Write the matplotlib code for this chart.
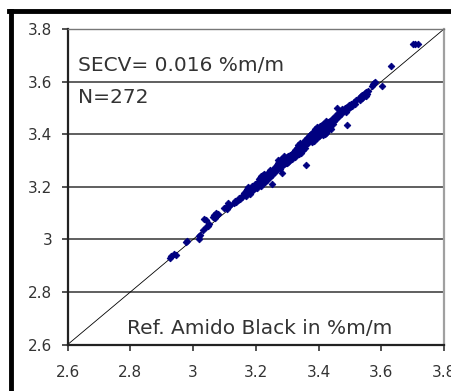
import matplotlib
matplotlib.use("Agg")
import matplotlib.pyplot as plt
from matplotlib.lines import Line2D

# reference (x) vs predicted (y) values
ref_vals = [
    2.925, 2.930, 2.940, 2.945,
    2.978, 2.982,
    3.018, 3.020, 3.022,
    3.036, 3.040,
    3.032, 3.040, 3.046, 3.050,
    3.064, 3.068, 3.072, 3.076, 3.080, 3.070,
    3.100, 3.104, 3.110, 3.114, 3.118, 3.108,
    3.130, 3.134, 3.138, 3.142, 3.146, 3.150, 3.155, 3.160,
    3.162, 3.165, 3.168, 3.170, 3.172, 3.175, 3.176, 3.178, 3.180, 3.182,
    3.184, 3.186, 3.188, 3.190, 3.192, 3.194, 3.196, 3.198, 3.200, 3.170,
    3.202, 3.204, 3.206, 3.208, 3.210, 3.212, 3.214, 3.216, 3.218, 3.220,
    3.222, 3.224, 3.226, 3.228, 3.230, 3.232, 3.234, 3.236, 3.238, 3.240,
    3.242, 3.244, 3.246, 3.248, 3.250, 3.252, 3.254, 3.256, 3.258, 3.260,
    3.215, 3.225, 3.235, 3.245, 3.250,
    3.262, 3.264, 3.266, 3.268, 3.270, 3.272, 3.274, 3.276, 3.278, 3.280,
    3.282, 3.284, 3.286, 3.288, 3.290, 3.292, 3.294, 3.296, 3.298, 3.300,
    3.302, 3.304, 3.306, 3.308, 3.310, 3.312, 3.314, 3.316, 3.318, 3.320,
    3.270, 3.280, 3.290, 3.300, 3.282,
    3.322, 3.324, 3.326, 3.328, 3.330, 3.332, 3.334, 3.336, 3.338, 3.340,
    3.342, 3.344, 3.346, 3.348, 3.350, 3.352, 3.354, 3.356, 3.358, 3.360,
    3.325, 3.335, 3.345, 3.355, 3.330, 3.340, 3.350, 3.360, 3.338, 3.358,
    3.362, 3.364, 3.366, 3.368, 3.370, 3.372, 3.374, 3.376, 3.378, 3.380,
    3.382, 3.384, 3.386, 3.388, 3.390, 3.392, 3.394, 3.396, 3.398, 3.400,
    3.402, 3.404, 3.406, 3.408, 3.410, 3.412, 3.414, 3.416, 3.418, 3.420,
    3.422, 3.424, 3.426, 3.428, 3.430, 3.432, 3.434, 3.436, 3.438, 3.440,
    3.365, 3.375, 3.385, 3.395, 3.405, 3.415, 3.425, 3.435, 3.370, 3.380,
    3.390, 3.400, 3.410, 3.420, 3.430, 3.440, 3.395, 3.405, 3.415, 3.425,
    3.384, 3.392, 3.402, 3.412, 3.422, 3.432, 3.376, 3.368, 3.386,
    3.442, 3.445, 3.448, 3.450, 3.452, 3.455, 3.458, 3.460, 3.462, 3.465,
    3.468, 3.470, 3.474, 3.478, 3.490,
    3.482, 3.485, 3.488, 3.490, 3.494, 3.498, 3.500, 3.504, 3.508, 3.512,
    3.516, 3.520,
    3.528, 3.532, 3.535, 3.538, 3.540, 3.542, 3.545, 3.548, 3.550, 3.552,
    3.555, 3.558,
    3.570, 3.574, 3.578, 3.580,
    3.603, 3.630,
    3.700, 3.708, 3.716,
]
pred_vals = [
    2.930, 2.935, 2.945, 2.942,
    2.988, 2.992,
    3.002, 3.012, 3.018,
    3.078, 3.074,
    3.036, 3.048, 3.052, 3.060,
    3.086, 3.094, 3.100, 3.092, 3.098, 3.082,
    3.118, 3.124, 3.140, 3.128, 3.132, 3.116,
    3.138, 3.146, 3.142, 3.150, 3.156, 3.152, 3.160, 3.168,
    3.176, 3.170, 3.184, 3.178, 3.192, 3.180, 3.200, 3.186, 3.174, 3.190,
    3.196, 3.182, 3.204, 3.192, 3.186, 3.198, 3.210, 3.194, 3.202, 3.166,
    3.212, 3.196, 3.220, 3.206, 3.228, 3.214, 3.232, 3.204, 3.224, 3.238,
    3.216, 3.244, 3.230, 3.220, 3.246, 3.236, 3.226, 3.250, 3.240, 3.232,
    3.256, 3.248, 3.238, 3.260, 3.252, 3.244, 3.264, 3.256, 3.268, 3.258,
    3.240, 3.250, 3.242, 3.262, 3.212,
    3.276, 3.262, 3.284, 3.270, 3.290, 3.278, 3.296, 3.268, 3.286, 3.300,
    3.292, 3.280, 3.304, 3.294, 3.286, 3.308, 3.298, 3.290, 3.312, 3.304,
    3.296, 3.318, 3.310, 3.302, 3.322, 3.314, 3.306, 3.326, 3.318, 3.330,
    3.300, 3.306, 3.316, 3.290, 3.252,
    3.332, 3.318, 3.340, 3.326, 3.346, 3.334, 3.352, 3.324, 3.344, 3.358,
    3.348, 3.336, 3.362, 3.350, 3.340, 3.366, 3.356, 3.346, 3.370, 3.362,
    3.314, 3.360, 3.330, 3.372, 3.338, 3.368, 3.354, 3.284, 3.342, 3.376,
    3.378, 3.386, 3.372, 3.392, 3.382, 3.398, 3.376, 3.390, 3.404, 3.384,
    3.396, 3.410, 3.388, 3.402, 3.414, 3.394, 3.408, 3.420, 3.398, 3.412,
    3.404, 3.424, 3.416, 3.400, 3.428, 3.418, 3.408, 3.432, 3.422, 3.412,
    3.436, 3.426, 3.414, 3.440, 3.430, 3.420, 3.444, 3.434, 3.424, 3.446,
    3.366, 3.400, 3.380, 3.426, 3.396, 3.440, 3.404, 3.452, 3.388, 3.372,
    3.418, 3.392, 3.436, 3.402, 3.448, 3.418, 3.386, 3.430, 3.398, 3.450,
    3.392, 3.404, 3.410, 3.424, 3.430, 3.438, 3.396, 3.384, 3.374,
    3.456, 3.440, 3.462, 3.450, 3.468, 3.458, 3.500, 3.464, 3.480, 3.470,
    3.486, 3.476, 3.496, 3.488, 3.436,
    3.492, 3.500, 3.486, 3.504, 3.496, 3.510, 3.502, 3.516, 3.508, 3.524,
    3.514, 3.530,
    3.538, 3.530, 3.544, 3.536, 3.550, 3.542, 3.548, 3.556, 3.546, 3.560,
    3.554, 3.566,
    3.584, 3.590, 3.596, 3.598,
    3.583, 3.660,
    3.742, 3.744, 3.742,
]
ticks = [2.6, 2.8, 3.0, 3.2, 3.4, 3.6, 3.8]
tick_labels = ["2.6", "2.8", "3", "3.2", "3.4", "3.6", "3.8"]

plt.rcParams['font.family'] = ['DejaVu Sans']

fig = plt.figure(figsize=(4.52, 3.91), dpi=100)
ax = fig.add_axes([0.1498, 0.1189, 0.8325, 0.8069])

ax.set_xlim(2.6, 3.8)
ax.set_ylim(2.6, 3.8)
ax.set_xticks(ticks)
ax.set_xticklabels(tick_labels)
ax.set_yticks(ticks)
ax.set_yticklabels(tick_labels)
ax.tick_params(axis='both', labelsize=11, colors='#333333', length=4, width=1.2)
ax.tick_params(axis='x', pad=11)
ax.tick_params(axis='y', pad=7)

for y in ticks[1:-1]:
    ax.axhline(y, color='#444444', lw=1.2, zorder=1)

ax.plot([2.6, 3.8], [2.6, 3.8], color='black', lw=0.6, zorder=2)
ax.plot(ref_vals, pred_vals, linestyle='none', marker='D', markersize=3.4,
        color='#000080', markeredgewidth=0.6, zorder=3)

for side in ['left', 'bottom']:
    ax.spines[side].set_color('#222222')
    ax.spines[side].set_linewidth(1.6)
ax.spines['top'].set_color('#777777')
ax.spines['top'].set_linewidth(1.0)
ax.spines['right'].set_color('#a0a0a0')
ax.spines['right'].set_linewidth(1.6)

ax.text(2.632, 3.640, "SECV= 0.016 %m/m", fontsize=14.5, color='#333333',
        va='baseline')
ax.text(2.632, 3.520, "N=272", fontsize=14.5, color='#333333', va='baseline')
ax.text(2.79, 2.639, "Ref. Amido Black in %m/m", fontsize=14.5,
        color='#333333', va='baseline')

# thick black frame at top and left edge of the picture
fig.add_artist(Line2D([10.5 / 452, 10.5 / 452], [0, 1 - 10.5 / 391],
                      color='black', lw=3.5, transform=fig.transFigure))
fig.add_artist(Line2D([8.8 / 452, 1.0], [1 - 10.5 / 391, 1 - 10.5 / 391],
                      color='black', lw=3.5, transform=fig.transFigure))

fig.savefig("out.png", dpi=100)
